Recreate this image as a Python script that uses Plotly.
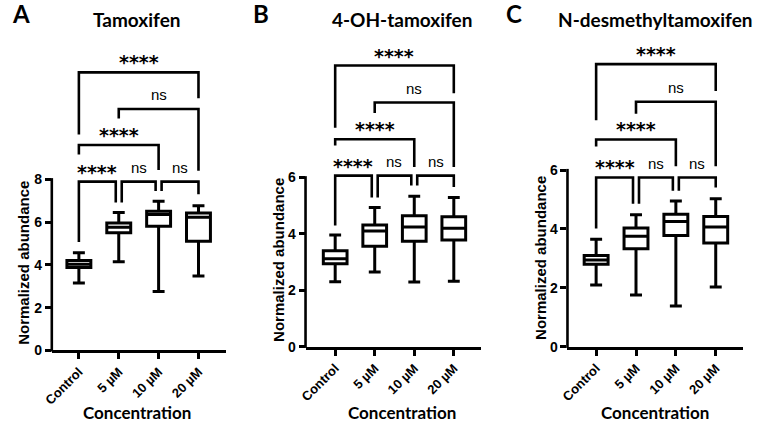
import plotly.graph_objects as go

W, H = 779, 431

categories = ["Control", "5 µM", "10 µM", "20 µM"]
titles = ["Tamoxifen", "4-OH-tamoxifen", "N-desmethyltamoxifen"]
letters = ["A", "B", "C"]

# Box statistics per panel (lower whisker, Q1, median, Q3, upper whisker)
tam_lo = [3.15, 4.15, 2.75, 3.48]
tam_q1 = [3.87, 5.50, 5.80, 5.10]
tam_med = [4.03, 5.76, 6.35, 6.22]
tam_q3 = [4.20, 5.96, 6.50, 6.42]
tam_hi = [4.56, 6.45, 6.97, 6.76]

oh_lo = [2.30, 2.65, 2.29, 2.32]
oh_q1 = [2.94, 3.56, 3.74, 3.78]
oh_med = [3.12, 4.10, 4.24, 4.20]
oh_q3 = [3.40, 4.31, 4.64, 4.60]
oh_hi = [3.96, 4.93, 5.33, 5.29]

nd_lo = [2.10, 1.76, 1.38, 2.03]
nd_q1 = [2.80, 3.33, 3.78, 3.52]
nd_med = [2.95, 3.75, 4.25, 4.07]
nd_q3 = [3.10, 4.03, 4.50, 4.42]
nd_hi = [3.65, 4.48, 4.95, 5.03]

# Significance comparisons (group index pairs), labels, bracket heights and leg ends
pairs = [(0, 1), (1, 2), (2, 3), (0, 2), (1, 3), (0, 3)]
sig_labels = ["****", "ns", "ns", "****", "ns", "****"]

tam_bar_y = [7.89, 7.89, 7.89, 9.60, 11.29, 13.00]
tam_leg_ends = [(5.07, 6.91), (6.91, 7.45), (7.45, 7.30), (9.16, 8.43), (10.84, 8.40), (10.09, 11.79)]

oh_bar_y = [6.06, 6.06, 6.06, 7.35, 8.65, 9.96]
oh_leg_ends = [(4.29, 5.29), (5.29, 5.71), (5.71, 5.66), (7.13, 6.37), (8.28, 6.37), (7.76, 8.98)]

nd_bar_y = [5.75, 5.75, 5.75, 7.04, 8.32, 9.60]
nd_leg_ends = [(4.02, 4.86), (4.86, 5.30), (5.30, 5.41), (6.80, 6.13), (7.91, 6.13), (7.69, 8.69)]

y_ticks_list = [[0, 2, 4, 6, 8], [0, 2, 4, 6], [0, 2, 4, 6]]

panels = [
    dict(lo=tam_lo, q1=tam_q1, med=tam_med, q3=tam_q3, hi=tam_hi, bar=tam_bar_y, legs=tam_leg_ends),
    dict(lo=oh_lo, q1=oh_q1, med=oh_med, q3=oh_q3, hi=oh_hi, bar=oh_bar_y, legs=oh_leg_ends),
    dict(lo=nd_lo, q1=nd_q1, med=nd_med, q3=nd_q3, hi=nd_hi, bar=nd_bar_y, legs=nd_leg_ends),
]

# ---- layout geometry (pixels) ----
geom = [
    dict(xl=43.3, xr=220, c0=70.7, sp=40.33, y0=357.0, unit=21.79, title_x=130, ytitle_x=14, ytitle_y=268, letter_x=12),
    dict(xl=300.0, xr=478, c0=330.0, sp=40.0, y0=353.3, unit=28.77, title_x=398, ytitle_x=272, ytitle_y=265, letter_x=255),
    dict(xl=565.0, xr=743, c0=594.0, sp=40.33, y0=353.3, unit=30.0, title_x=654, ytitle_x=537, ytitle_y=263, letter_x=511),
]
TOP_PX = 40.0


def xp(px):
    return px / W


def yp(py):
    return 1 - py / H


fig = go.Figure()
annotations = []
shapes = []
LW = 2.6
FONT_T = "Liberation Sans"
FONT_H = "Lato"
OFF = 0.075

for i, (p, g) in enumerate(zip(panels, geom)):
    ax = "" if i == 0 else str(i + 1)
    xa, ya = "x" + ax, "y" + ax
    idx = list(range(len(categories)))
    fig.add_trace(go.Box(
        x=idx, q1=p["q1"], median=p["med"], q3=p["q3"],
        lowerfence=p["lo"], upperfence=p["hi"],
        width=0.6, whiskerwidth=0.5, boxpoints=False,
        line=dict(color="black", width=3), fillcolor="white",
        xaxis=xa, yaxis=ya, showlegend=False, hoverinfo="skip",
    ))
    # brackets
    bx, by = [], []
    for k, ((a, b), yb, (ea, eb)) in enumerate(zip(pairs, p["bar"], p["legs"])):
        xa_ = a + (OFF if (b - a == 1 and a in (1, 2)) else 0)
        xb_ = b - (OFF if (b - a == 1 and b in (1, 2)) else 0)
        bx += [xa_, xa_, xb_, xb_, None]
        by += [ea, yb, yb, eb, None]
        lab = sig_labels[k]
        if lab == "ns":
            f = dict(family=FONT_T, size=15, color="black")
            ys = 14
        else:
            f = dict(family="DejaVu Sans", size=19, color="black", weight="bold")
            ys = 10
        annotations.append(dict(
            x=(xa_ + xb_) / 2, y=yb, xref=xa, yref=ya, text=lab, showarrow=False,
            yshift=ys, xanchor="center", yanchor="middle", font=f,
        ))
    fig.add_trace(go.Scatter(
        x=bx, y=by, mode="lines", line=dict(color="black", width=LW),
        xaxis=xa, yaxis=ya, showlegend=False, hoverinfo="skip", cliponaxis=False,
    ))

    xr0 = (g["xl"] - g["c0"]) / g["sp"]
    xr1 = (g["xr"] - g["c0"]) / g["sp"]
    ymax = (g["y0"] - TOP_PX) / g["unit"]
    fig.layout["xaxis" + ax] = dict(
        domain=[xp(g["xl"]), xp(g["xr"])], range=[xr0, xr1], anchor=ya,
        tickvals=idx, ticktext=categories, tickangle=-45,
        showline=True, linecolor="black", linewidth=LW,
        ticks="outside", ticklen=6, tickwidth=LW, tickcolor="black",
        showgrid=False, zeroline=False,
        tickfont=dict(family=FONT_T, size=13, color="black", weight="bold"),
    )
    fig.layout["yaxis" + ax] = dict(
        domain=[yp(g["y0"]), yp(TOP_PX)], range=[0, ymax], anchor=xa,
        tickvals=y_ticks_list[i], showline=False,
        ticks="outside", ticklen=6, tickwidth=LW, tickcolor="black",
        showgrid=False, zeroline=False,
        tickfont=dict(family=FONT_T, size=14, color="black", weight="bold"),
    )
    ytop_px = g["y0"] - y_ticks_list[i][-1] * g["unit"]
    shapes.append(dict(type="line", xref="paper", yref="paper",
                       x0=xp(g["xl"]), x1=xp(g["xl"]), y0=yp(g["y0"] + 1.2), y1=yp(ytop_px - 1.2),
                       line=dict(color="black", width=LW)))
    # titles
    annotations.append(dict(x=xp(g["title_x"]), y=yp(20), xref="paper", yref="paper",
                            text="<b>%s</b>" % titles[i], showarrow=False,
                            xanchor="center", yanchor="middle",
                            font=dict(family=FONT_H, size=19, color="black")))
    annotations.append(dict(x=xp(g["letter_x"]), y=yp(14), xref="paper", yref="paper",
                            text="<b>%s</b>" % letters[i], showarrow=False,
                            xanchor="center", yanchor="middle",
                            font=dict(family=FONT_H, size=24, color="black")))
    annotations.append(dict(x=xp(g["ytitle_x"]), y=yp(g["ytitle_y"]), xref="paper", yref="paper",
                            text="<b>Normalized abundance</b>", showarrow=False, textangle=-90,
                            xanchor="center", yanchor="middle",
                            font=dict(family=FONT_T, size=15, color="black")))
    annotations.append(dict(x=xp(g["title_x"]), y=yp(420), xref="paper", yref="paper",
                            text="<b>Concentration</b>", showarrow=False,
                            xanchor="center", yanchor="middle",
                            font=dict(family=FONT_H, size=17, color="black")))

fig.update_layout(
    width=W, height=H, margin=dict(l=0, r=0, t=0, b=0),
    paper_bgcolor="white", plot_bgcolor="white",
    annotations=annotations, shapes=shapes, showlegend=False,
)

fig.write_html("out.html", config={"displayModeBar": False},
               post_script="document.body.style.margin='0';")
